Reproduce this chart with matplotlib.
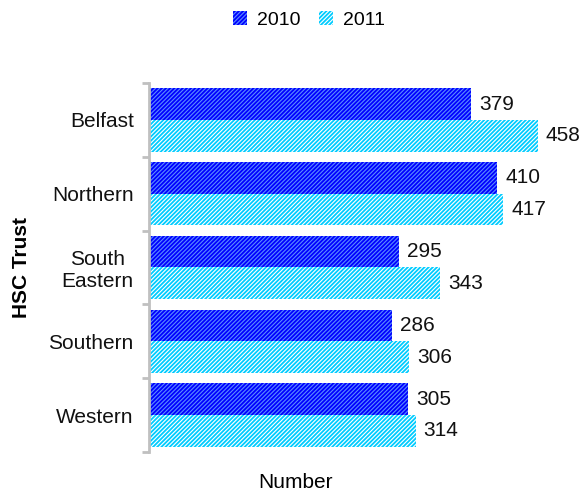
import matplotlib
matplotlib.use("Agg")
import matplotlib.pyplot as plt
import numpy as np

categories = ["Belfast", "Northern", "South\nEastern", "Southern", "Western"]
values_2010 = [379, 410, 295, 286, 305]
values_2011 = [458, 417, 343, 306, 314]
series_names = ["2010", "2011"]

plt.rcParams['font.family'] = ['Liberation Sans', 'DejaVu Sans']
plt.rcParams['hatch.linewidth'] = 1.3

W, H = 581, 491
fig = plt.figure(figsize=(W/100, H/100), dpi=100)
ax = fig.add_axes([149/W, (H-452)/H, (573.5-149)/W, (452-83)/H])

y = np.arange(len(categories))
h = 0.43
b1 = ax.barh(y - h/2, values_2010, height=h, color='#5c8cff', hatch='////////',
             edgecolor='#0000ff', linewidth=0, label=series_names[0])
b2 = ax.barh(y + h/2, values_2011, height=h, color='white', hatch='////////',
             edgecolor='#00ccff', linewidth=0, label=series_names[1])
for bars in (b1, b2):
    for r in bars:
        r._hatch_color = matplotlib.colors.to_rgba(r.get_edgecolor())

for bars, vals in ((b1, values_2010), (b2, values_2011)):
    for r, v in zip(bars, vals):
        ax.annotate(str(v), (r.get_width(), r.get_y() + r.get_height()/2),
                    xytext=(8, 0), textcoords='offset pixels',
                    va='center', ha='left', fontsize=15, color='#111111')

ax.set_xlim(0, 500)
ax.set_ylim(len(categories) - 0.5, -0.5)

for s in ['top', 'right', 'bottom']:
    ax.spines[s].set_visible(False)
ax.spines['left'].set_color('#c0c0c0')
ax.spines['left'].set_linewidth(2)
ax.set_xticks([])

ax.set_yticks(y)
ax.set_yticklabels(categories, fontsize=15, color='#111111', linespacing=1.15,
                   multialignment='center')
ax.tick_params(axis='y', which='major', length=0, pad=11)
ax.set_yticks(np.arange(-0.5, len(categories)), minor=True)
ax.tick_params(axis='y', which='minor', length=5, width=2, color='#c0c0c0', direction='out')

fig.text(22/W, (H-267)/H, "HSC Trust", rotation=90, fontsize=15, fontweight='bold',
         ha='center', va='center')
fig.text(295/W, (H-482)/H, "Number", fontsize=15, ha='center', va='center')

leg = fig.legend(handles=[b1, b2], labels=series_names, loc='center',
                 bbox_to_anchor=(309/W, (H-20)/H), ncol=2, frameon=False,
                 fontsize=14, handlelength=0.7, handleheight=0.7,
                 handletextpad=0.5, columnspacing=1.0)
for p in leg.get_patches():
    p._hatch_color = matplotlib.colors.to_rgba(p.get_edgecolor())

fig.savefig("out.png", dpi=100)
